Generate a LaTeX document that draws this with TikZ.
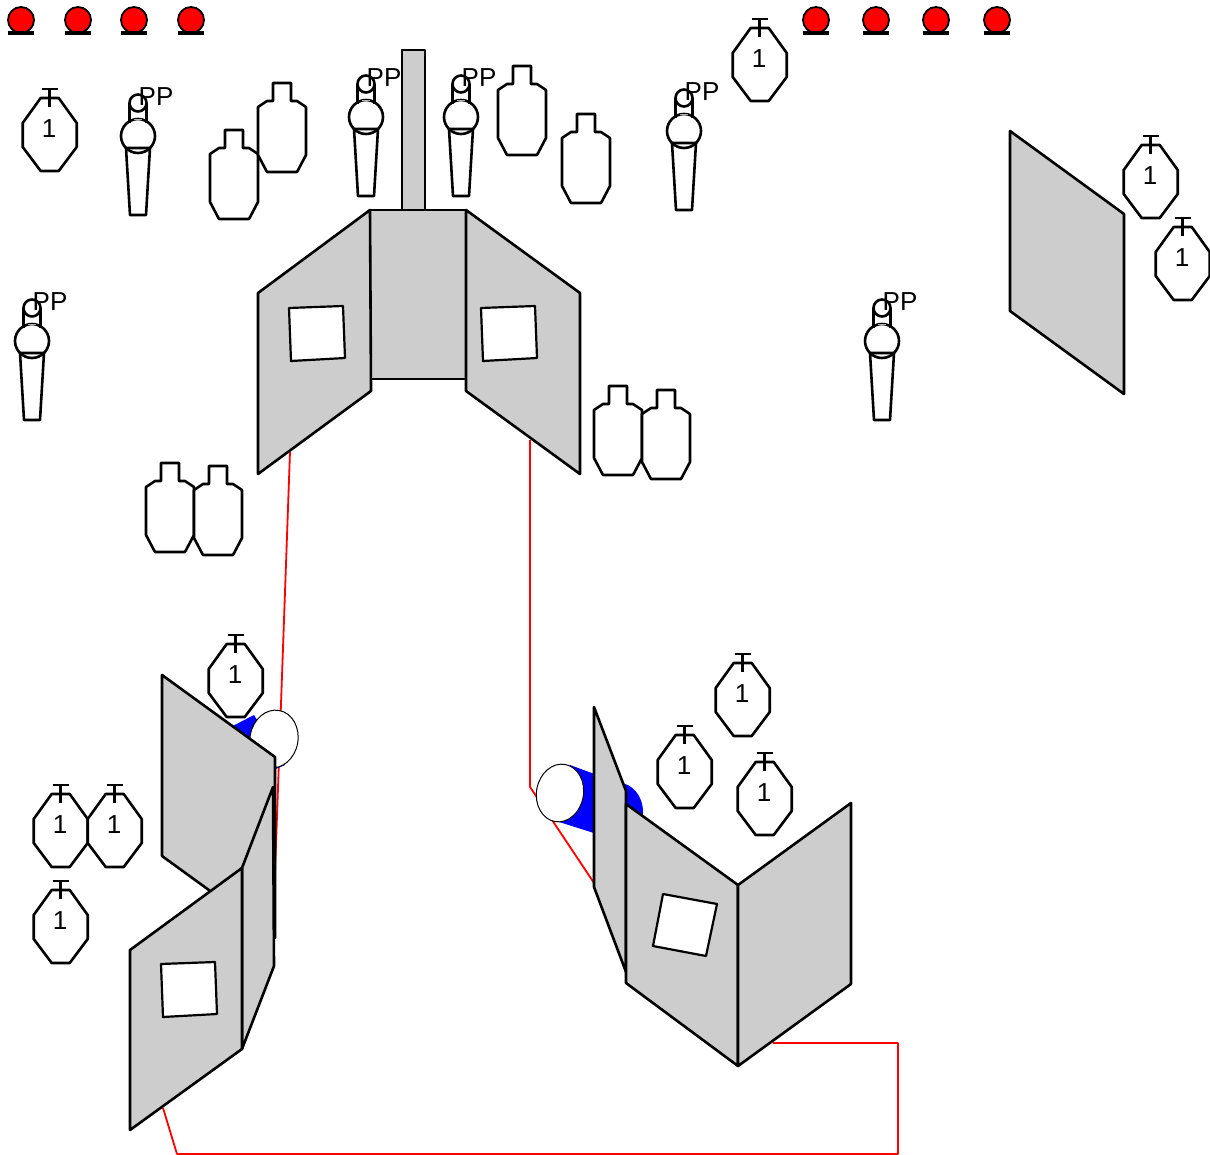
\documentclass[tikz,border=0pt]{standalone}
\usepackage{fontspec}
\setmainfont{Liberation Sans}
\definecolor{wallgray}{HTML}{CDCDCD}
\tikzset{
  x=1pt,y=-1pt,
  every path/.append style={line join=round},
  ink/.style={draw=black,line width=2.6pt},
  wall/.style={ink,fill=wallgray},
  whitebox/.style={ink,fill=white,line width=2.2pt},
  redline/.style={draw=red,line width=1.8pt},
  lens/.style={draw=black,fill=white,line width=1pt},
  label/.style={font=\fontsize{26}{26}\selectfont,inner sep=0pt,text=black},
  pics/octo/.style={code={
    \draw[ink,fill=white,xshift=0.7pt] (-9,-31)--(9,-31)--(27,-6)--(27,18)--(9,42)--(-9,42)--(-27,18)--(-27,-6)--cycle;
    \draw[ink,xshift=0.7pt] (0,-41)--(0,-22) (-8,-40)--(8,-40);
    \node[label] (-n) at (0,0) {1};
  }},
  pics/sil/.style={code={
    \draw[ink,fill=white] (-9,0)--(9,0)--(9,18)--(15,18)--(24,24)--(24,72)--(15,89)--(-15,89)--(-24,72)--(-24,24)--(-15,18)--(-9,18)--cycle;
  }},
  pics/shooter/.style={code={
    \draw[ink] (-12,45)--(12,45)--(8,112)--(-8,112)--cycle;
    \draw[ink] (0,33) circle [radius=17pt];
    \draw[ink] (-8.5,0)--(-8.5,20) (8.5,0)--(8.5,20);
    \draw[ink] (0,0) circle [radius=8.5pt];
    \draw[draw=black!30,line width=1pt] (-4,17)--(4,17);
    \node[label] (-n) at (18,-6) {PP};
  }},
  pics/lamp/.style={code={
    \draw[draw=black,fill=red,line width=1.8pt] (0,0) circle [radius=13pt];
    \draw[draw=black,line width=3.8pt] (-13,13)--(13,13);
  }},
}
\begin{document}
\begin{tikzpicture}
\useasboundingbox (0,0) rectangle (1210,1155);
% lamps
\foreach \i/\px in {1/21,2/78,3/134,4/191,5/816,6/876,7/936,8/997}
  \pic (lamp\i) at (\px,20) {lamp};
% red connectors
\coordinate (ra1) at (290,452); \coordinate (ra2) at (274,900);
\coordinate (rb1) at (530,440); \coordinate (rb2) at (530,787); \coordinate (rb3) at (594,883);
\coordinate (rc1) at (163,1108); \coordinate (rc2) at (177,1154); \coordinate (rc3) at (898,1154);
\coordinate (rc4) at (898,1043); \coordinate (rc5) at (773,1043);
\draw[redline] (ra1)--(ra2);
\draw[redline] (rb1)--(rb2)--(rb3);
\draw[redline] (rc1)--(rc2)--(rc3)--(rc4)--(rc5);
% top structure
\draw[wall] (402,50) rectangle (425,210);
\draw[wall] (370,210) rectangle (466,379);
\draw[wall] (370,210)--(258,293)--(258,474)--(371,391)--cycle;
\draw[wall] (466,210)--(580,293)--(580,474)--(466,391)--cycle;
\draw[whitebox] (289,308)--(343,306)--(345,358)--(291,361)--cycle;
\draw[whitebox] (481,308)--(535,306)--(537,358)--(483,361)--cycle;
% far right wall
\draw[wall] (1010,131)--(1124,214)--(1124,394)--(1010,311)--cycle;
% silhouettes
\foreach \i/\px/\py in {1/234/130,2/282/83,3/522/66,4/586/114,5/618/386,6/666/390,7/170/463,8/218/466}
  \pic (sil\i) at (\px,\py) {sil};
% shooters
\foreach \i/\px/\py in {1/138/103,2/366/84,3/461/84,4/684/98,5/32/308,6/882/308}
  \pic (pp\i) at (\px,\py) {shooter};
% numbered targets
\foreach \i/\px/\py in {1/49/129,2/759/59,3/235/675,4/742/694,5/684/766,6/764/793,7/60/825,8/114/825,9/60/921,10/1150/176,11/1182/258}
  \pic (oct\i) at (\px,\py) {octo};
% bottom-left group
\fill[blue] (254,715)--(225,730)--(250,780)--(285,765)--cycle;
\draw[lens,rotate around={-10:(274,739)}] (274,739) ellipse [x radius=24pt,y radius=29pt];
\draw[wall] (162,675)--(275,757)--(275,938)--(162,856)--cycle;
\draw[wall] (242,868)--(273,787)--(274,966)--(242,1049)--cycle;
\draw[wall] (130,950)--(242,868)--(242,1049)--(130,1130)--cycle;
\draw[whitebox] (161,964)--(215,962)--(217,1014)--(163,1017)--cycle;
% bottom-right group
\fill[blue] (619,812) ellipse [x radius=24pt,y radius=29pt];
\fill[blue] (570,765)--(619,783)--(619,841)--(556,821)--cycle;
\draw[lens,rotate around={-10:(560,793)}] (560,793) ellipse [x radius=23.5pt,y radius=29pt];
\draw[wall] (594,707)--(626,791)--(626,972)--(594,887)--cycle;
\draw[wall] (626,804)--(738,885)--(738,1066)--(626,983)--cycle;
\draw[wall] (738,885)--(851,803)--(851,984)--(738,1066)--cycle;
\draw[whitebox] (663,894)--(717,904)--(706,956)--(653,946)--cycle;
\end{tikzpicture}
\end{document}
